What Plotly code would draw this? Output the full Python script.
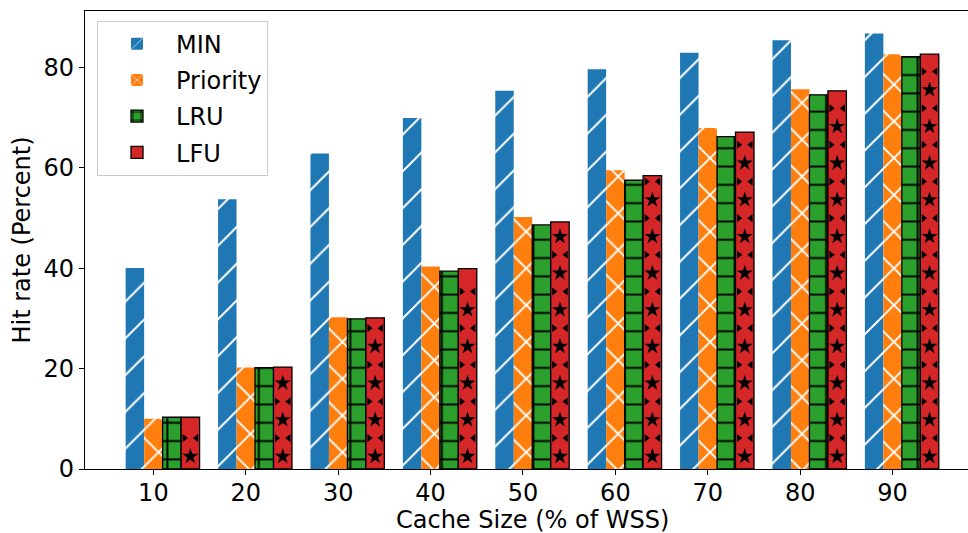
import plotly.graph_objects as go

# Cache sizes (% of working-set size) and measured hit rates (%)
cache_sizes = [10, 20, 30, 40, 50, 60, 70, 80, 90]
hit_min = [40.0, 53.7, 62.8, 69.9, 75.3, 79.6, 82.9, 85.4, 86.7]
hit_priority = [10.0, 20.2, 30.2, 40.3, 50.2, 59.5, 67.9, 75.6, 82.6]
hit_lru = [10.3, 20.2, 29.9, 39.4, 48.6, 57.5, 66.2, 74.5, 82.1]
hit_lfu = [10.3, 20.3, 30.1, 39.9, 49.2, 58.4, 67.1, 75.3, 82.6]

FONT = "DejaVu Sans"
FS = 24
BAR_W = 0.2
X_RANGE = [-0.74, 8.816]
idx = list(range(len(cache_sizes)))

series = [
    # name, values, offset, fill colour, pattern shape, pattern colour, size, solidity, edge
    ("MIN", hit_min, -0.2, "#1f77b4", "/", "white", 26, 0.075, None),
    ("Priority", hit_priority, 0.0, "#ff7f0e", "x", "white", 26, 0.14, None),
    ("LRU", hit_lru, 0.2, "#2ca02c", "+", "black", 18.3, 0.2, "black"),
    ("LFU", hit_lfu, 0.4, "#d62728", "", "black", 10, 0.2, "black"),
]

fig = go.Figure()
for name, vals, off, color, shape, fg, psize, solid, edge in series:
    fig.add_trace(go.Bar(
        name=name,
        x=[i + off for i in idx],
        y=vals,
        width=BAR_W,
        marker=dict(
            color=color,
            line=dict(color=edge if edge else color, width=1.3 if edge else 0),
            pattern=dict(shape=shape, fgcolor=fg, bgcolor=color, size=psize,
                         solidity=solid, fgopacity=1, fillmode="overlay"),
        ),
        legendgroup=name,
    ))

# Star hatching on the LFU bars: centred stars, with half-star notches on the
# bar edges half a step between them
STAR_START, STAR_STEP = 2.5, 7.3
star_x, star_y = [], []
notch_l_x, notch_r_x, notch_y = [], [], []
for i, v in zip(idx, hit_lfu):
    y = STAR_START
    while y + 1.3 <= v:
        star_x.append(i + 0.4)
        star_y.append(y)
        y += STAR_STEP
    y = STAR_START + STAR_STEP / 2
    while y + 1.0 <= v:
        notch_l_x.append(i + 0.3 + 0.035)
        notch_r_x.append(i + 0.5 - 0.035)
        notch_y.append(y)
        y += STAR_STEP

fig.add_trace(go.Scatter(
    x=star_x, y=star_y, mode="markers",
    marker=dict(symbol="star", size=12, color="black", line=dict(width=0)),
    showlegend=False, hoverinfo="skip", legendgroup="LFU",
))
fig.add_trace(go.Scatter(
    x=notch_l_x, y=notch_y, mode="markers",
    marker=dict(symbol="triangle-right", size=7, color="black", line=dict(width=0)),
    showlegend=False, hoverinfo="skip", legendgroup="LFU",
))
fig.add_trace(go.Scatter(
    x=notch_r_x, y=notch_y, mode="markers",
    marker=dict(symbol="triangle-left", size=7, color="black", line=dict(width=0)),
    showlegend=False, hoverinfo="skip", legendgroup="LFU",
))

# x-axis label, centred under the full (partly cropped) axes
fig.add_annotation(
    text="Cache Size (% of WSS)", xref="x", yref="paper",
    x=4.1, y=-0.112, xanchor="center", yanchor="middle",
    showarrow=False, font=dict(family=FONT, size=FS, color="black"),
)

fig.update_layout(
    width=968, height=533,
    margin=dict(l=85, r=0, t=10.5, b=64.3),
    plot_bgcolor="white", paper_bgcolor="white",
    barmode="overlay",
    font=dict(family=FONT, size=FS, color="black"),
    showlegend=True,
    legend=dict(
        x=0.0136, y=0.979, xanchor="left", yanchor="top",
        bgcolor="rgba(255,255,255,0.8)", bordercolor="#cccccc", borderwidth=1,
        font=dict(family=FONT, size=FS), tracegroupgap=2, itemwidth=68,
    ),
    xaxis=dict(
        range=X_RANGE,
        tickmode="array", tickvals=idx, ticktext=[str(c) for c in cache_sizes],
        showline=True, linecolor="black", linewidth=1.1, mirror=True,
        ticks="outside", ticklen=5, tickwidth=1.1, tickcolor="black",
        ticklabelstandoff=-3, automargin=False,
        showgrid=False, zeroline=False,
    ),
    yaxis=dict(
        range=[0, 91.2],
        tickmode="array", tickvals=[0, 20, 40, 60, 80],
        showline=True, linecolor="black", linewidth=1.1, mirror=False,
        ticks="outside", ticklen=5, tickwidth=1.1, tickcolor="black",
        automargin=False,
        showgrid=False, zeroline=False,
        title=dict(text="Hit rate (Percent)", font=dict(size=FS), standoff=6),
    ),
)

fig.write_html("out.html")
